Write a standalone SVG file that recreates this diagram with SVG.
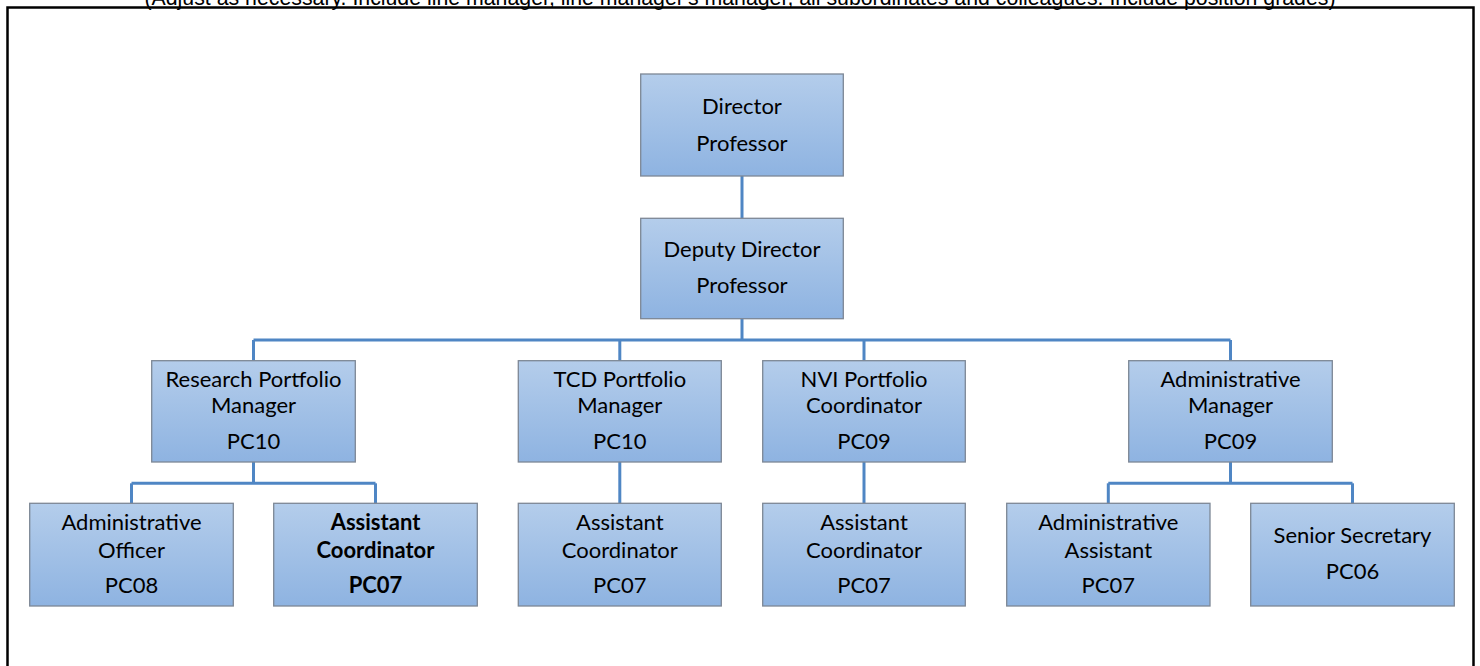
<svg xmlns="http://www.w3.org/2000/svg" width="1480" height="666" viewBox="0 0 1480 666">
  <defs>
    <linearGradient id="boxFill" x1="0" y1="0" x2="0" y2="1">
      <stop offset="0" stop-color="#B4CDEB"/>
      <stop offset="1" stop-color="#8EB3E1"/>
    </linearGradient>
  </defs>
  <style>
    .note { font-family: "Liberation Sans", Arial, sans-serif; font-size: 21.3px; fill: #000; }
    .frame { fill: none; stroke: #000; stroke-width: 2.5; }
    .box { fill: url(#boxFill); stroke: #7D8795; stroke-width: 1.3; }
    .label { font-family: Lato, "Open Sans", sans-serif; font-size: 22px; fill: #000; text-anchor: middle; }
    .bold { font-weight: bold; }
    .link { fill: none; stroke: #4F86C4; stroke-width: 3; }
  </style>

  <rect width="1480" height="666" fill="#fff"/>
  <text class="note" x="740" y="4.5" text-anchor="middle">(Adjust as necessary. Include line manager, line manager's manager, all subordinates and colleagues. Include position grades)</text>
  <rect class="frame" x="7.5" y="7.5" width="1466" height="680"/>

  <g id="connectors">
    <line class="link" x1="742" y1="176" x2="742" y2="218.3"/>
    <line class="link" x1="742" y1="318.7" x2="742" y2="340"/>
    <line class="link" x1="253.5" y1="340" x2="1230.5" y2="340"/>
    <line class="link" x1="253.5" y1="340" x2="253.5" y2="360.7"/>
    <line class="link" x1="619.8" y1="340" x2="619.8" y2="360.7"/>
    <line class="link" x1="864" y1="340" x2="864" y2="360.7"/>
    <line class="link" x1="1230.5" y1="340" x2="1230.5" y2="360.7"/>
    <line class="link" x1="253.5" y1="462" x2="253.5" y2="483.3"/>
    <line class="link" x1="131.5" y1="483.3" x2="375.5" y2="483.3"/>
    <line class="link" x1="131.5" y1="483.3" x2="131.5" y2="503.3"/>
    <line class="link" x1="375.5" y1="483.3" x2="375.5" y2="503.3"/>
    <line class="link" x1="619.8" y1="462" x2="619.8" y2="503.3"/>
    <line class="link" x1="864" y1="462" x2="864" y2="503.3"/>
    <line class="link" x1="1230.5" y1="462" x2="1230.5" y2="483.3"/>
    <line class="link" x1="1108.3" y1="483.3" x2="1352.5" y2="483.3"/>
    <line class="link" x1="1108.3" y1="483.3" x2="1108.3" y2="503.3"/>
    <line class="link" x1="1352.5" y1="483.3" x2="1352.5" y2="503.3"/>
  </g>

  <g id="director">
    <rect class="box" x="640.7" y="74" width="202.6" height="102"/>
    <text class="label" x="742" y="114.3">Director</text>
    <text class="label" x="742" y="150.7">Professor</text>
  </g>
  <g id="deputy-director">
    <rect class="box" x="640.7" y="218.3" width="202.6" height="100.4"/>
    <text class="label" x="742" y="256.7">Deputy Director</text>
    <text class="label" x="742" y="293.3">Professor</text>
  </g>

  <g id="research-portfolio-manager">
    <rect class="box" x="151.7" y="360.7" width="203.6" height="101.3"/>
    <text class="label" x="253.5" y="386.7">Research Portfolio</text>
    <text class="label" x="253.5" y="413.3">Manager</text>
    <text class="label" x="253.5" y="449.3">PC10</text>
  </g>
  <g id="tcd-portfolio-manager">
    <rect class="box" x="518.3" y="360.7" width="203" height="101.3"/>
    <text class="label" x="619.8" y="386.7">TCD Portfolio</text>
    <text class="label" x="619.8" y="413.3">Manager</text>
    <text class="label" x="619.8" y="449.3">PC10</text>
  </g>
  <g id="nvi-portfolio-coordinator">
    <rect class="box" x="762.7" y="360.7" width="202.6" height="101.3"/>
    <text class="label" x="864" y="386.7">NVI Portfolio</text>
    <text class="label" x="864" y="413.3">Coordinator</text>
    <text class="label" x="864" y="449.3">PC09</text>
  </g>
  <g id="administrative-manager">
    <rect class="box" x="1128.7" y="360.7" width="203.6" height="101.3"/>
    <text class="label" x="1230.5" y="386.7">Administrative</text>
    <text class="label" x="1230.5" y="413.3">Manager</text>
    <text class="label" x="1230.5" y="449.3">PC09</text>
  </g>

  <g id="administrative-officer">
    <rect class="box" x="29.7" y="503.3" width="203.6" height="102.7"/>
    <text class="label" x="131.5" y="530">Administrative</text>
    <text class="label" x="131.5" y="557.7">Officer</text>
    <text class="label" x="131.5" y="593.3">PC08</text>
  </g>
  <g id="assistant-coordinator-research">
    <rect class="box" x="273.7" y="503.3" width="203.6" height="102.7"/>
    <text class="label bold" x="375.5" y="530">Assistant</text>
    <text class="label bold" x="375.5" y="557.7">Coordinator</text>
    <text class="label bold" x="375.5" y="593.3">PC07</text>
  </g>
  <g id="assistant-coordinator-tcd">
    <rect class="box" x="518.3" y="503.3" width="203" height="102.7"/>
    <text class="label" x="619.8" y="530">Assistant</text>
    <text class="label" x="619.8" y="557.7">Coordinator</text>
    <text class="label" x="619.8" y="593.3">PC07</text>
  </g>
  <g id="assistant-coordinator-nvi">
    <rect class="box" x="762.7" y="503.3" width="202.6" height="102.7"/>
    <text class="label" x="864" y="530">Assistant</text>
    <text class="label" x="864" y="557.7">Coordinator</text>
    <text class="label" x="864" y="593.3">PC07</text>
  </g>
  <g id="administrative-assistant">
    <rect class="box" x="1006.7" y="503.3" width="203.3" height="102.7"/>
    <text class="label" x="1108.3" y="530">Administrative</text>
    <text class="label" x="1108.3" y="557.7">Assistant</text>
    <text class="label" x="1108.3" y="593.3">PC07</text>
  </g>
  <g id="senior-secretary">
    <rect class="box" x="1250.7" y="503.3" width="203.6" height="102.7"/>
    <text class="label" x="1352.5" y="543.3">Senior Secretary</text>
    <text class="label" x="1352.5" y="579.3">PC06</text>
  </g>
</svg>
